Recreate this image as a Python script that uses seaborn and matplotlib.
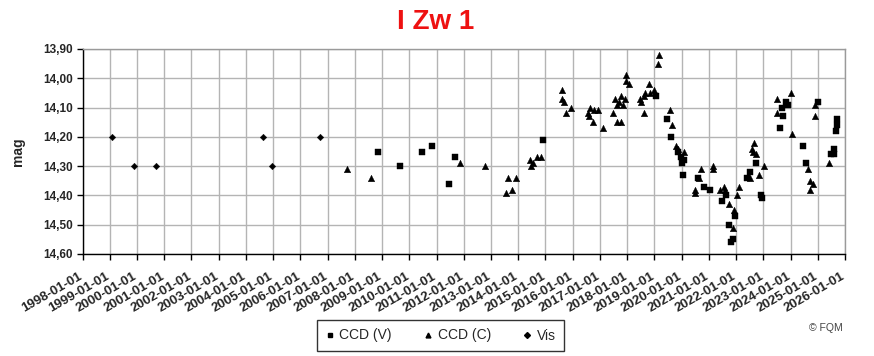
import matplotlib
matplotlib.use("Agg")
import matplotlib.pyplot as plt
import matplotlib.transforms as mtransforms
import seaborn as sns
import pandas as pd
from matplotlib.lines import Line2D

# ---------------- data (decimal year, magnitude) ----------------
vis_year = [1999.08, 1999.89, 2000.69, 2004.62, 2004.95, 2006.72]
vis_mag = [14.20, 14.30, 14.30, 14.20, 14.30, 14.20]

ccdv_year = [2008.84, 2009.65, 2010.46, 2010.83, 2011.45, 2011.67, 2014.90,
             2019.05, 2019.48, 2019.60, 2019.88, 2019.96, 2020.00, 2020.07, 2020.04,
             2020.61, 2020.83, 2021.06, 2021.49, 2021.63, 2021.73, 2021.87, 2021.80,
             2021.97, 2022.40, 2022.50, 2022.75, 2022.90, 2022.97, 2023.60, 2023.67,
             2023.73, 2023.84, 2023.91, 2024.46, 2024.57, 2025.01, 2025.49, 2025.61,
             2025.61, 2025.67, 2025.71, 2025.71]
ccdv_mag = [14.25, 14.30, 14.25, 14.23, 14.36, 14.27, 14.21,
            14.06, 14.14, 14.20, 14.25, 14.27, 14.29, 14.28, 14.33,
            14.34, 14.37, 14.38, 14.42, 14.40, 14.50, 14.55, 14.56,
            14.47, 14.34, 14.32, 14.29, 14.40, 14.41, 14.17, 14.10,
            14.13, 14.08, 14.09, 14.23, 14.29, 14.08, 14.26, 14.26,
            14.24, 14.18, 14.16, 14.14]

ccdc_year = [2007.72, 2008.59, 2011.85, 2012.77, 2013.54, 2013.61, 2013.76, 2013.91,
             2014.45, 2014.46, 2014.54, 2014.70, 2014.84, 2015.60, 2015.62, 2015.68,
             2015.74, 2015.93, 2016.55, 2016.59, 2016.62, 2016.73, 2016.80, 2016.92,
             2017.10, 2017.49, 2017.54, 2017.63, 2017.63, 2017.70, 2017.77, 2017.79,
             2017.85, 2017.92, 2017.97, 2017.97, 2018.06, 2018.48, 2018.52, 2018.61,
             2018.61, 2018.67, 2018.80, 2018.83, 2018.97, 2019.14, 2019.16, 2019.56,
             2019.64, 2019.81, 2019.88, 2020.07, 2020.51, 2020.51, 2020.63, 2020.70,
             2021.14, 2021.14, 2021.41, 2021.55, 2021.60, 2021.73, 2021.87, 2021.94,
             2022.04, 2022.10, 2022.50, 2022.58, 2022.65, 2022.62, 2022.75, 2022.86,
             2023.04, 2023.49, 2023.49, 2024.01, 2024.04, 2024.64, 2024.70, 2024.72,
             2024.82, 2024.89, 2024.91, 2025.42]
ccdc_mag = [14.31, 14.34, 14.29, 14.30, 14.39, 14.34, 14.38, 14.34,
            14.28, 14.30, 14.29, 14.27, 14.27, 14.04, 14.07, 14.08,
            14.12, 14.10, 14.12, 14.13, 14.10, 14.15, 14.11, 14.11,
            14.17, 14.12, 14.07, 14.09, 14.15, 14.08, 14.15, 14.06,
            14.09, 14.07, 13.99, 14.01, 14.02, 14.07, 14.08, 14.06,
            14.12, 14.05, 14.02, 14.05, 14.04, 13.95, 13.92, 14.11,
            14.16, 14.23, 14.24, 14.25, 14.38, 14.39, 14.34, 14.31,
            14.30, 14.31, 14.38, 14.37, 14.38, 14.43, 14.51, 14.45,
            14.40, 14.37, 14.34, 14.24, 14.22, 14.25, 14.26, 14.33,
            14.30, 14.07, 14.12, 14.05, 14.19, 14.31, 14.38, 14.35,
            14.36, 14.09, 14.13, 14.29]

series_names = ["CCD (V)", "CCD (C)", "Vis"]
x_tick_years = list(range(1998, 2027))
x_tick_labels = [f"{y}-01-01" for y in x_tick_years]
y_ticks = [13.9, 14.0, 14.1, 14.2, 14.3, 14.4, 14.5, 14.6]
y_tick_labels = ["13,90", "14,00", "14,10", "14,20", "14,30", "14,40", "14,50", "14,60"]

df = pd.concat([
    pd.DataFrame({"year": ccdv_year, "mag": ccdv_mag, "series": series_names[0]}),
    pd.DataFrame({"year": ccdc_year, "mag": ccdc_mag, "series": series_names[1]}),
    pd.DataFrame({"year": vis_year, "mag": vis_mag, "series": series_names[2]}),
], ignore_index=True)

# ---------------- style ----------------
sns.set_style("white")
plt.rcParams['font.family'] = ['Liberation Sans', 'DejaVu Sans']

fig = plt.figure(figsize=(8.74, 3.56), dpi=100)
W, H = 874, 356
ax = fig.add_axes([82.5 / W, 1 - 254 / H, (845 - 82.5) / W, (254 - 49) / H])

markers = {"CCD (V)": "s", "CCD (C)": "^", "Vis": "D"}
sizes = {"CCD (V)": 20, "CCD (C)": 22, "Vis": 11}
for name in series_names:
    sub = df[df["series"] == name]
    sns.scatterplot(data=sub, x="year", y="mag", ax=ax, marker=markers[name],
                    s=sizes[name], color="black", edgecolor="black",
                    linewidth=0.3, legend=False, zorder=3)

ax.set_xlim(1998, 2026)
ax.set_ylim(14.6, 13.9)
ax.set_xticks(x_tick_years)
ax.set_xticklabels(x_tick_labels, rotation=30, ha="right", va="top",
                   rotation_mode="anchor", fontsize=9.5, fontweight="bold")
ax.set_yticks(y_ticks)
ax.set_yticklabels(y_tick_labels, fontsize=8.5, fontweight="bold")
ax.tick_params(axis="both", direction="out", length=4, width=1, color="black",
               left=True, bottom=True, pad=3)
ax.tick_params(axis="x", pad=8)
offset = mtransforms.ScaledTranslation(-4 / 100, 0, fig.dpi_scale_trans)
for lab in ax.get_xticklabels():
    lab.set_transform(lab.get_transform() + offset)
ax.set_xlabel("")
ax.set_ylabel("")
ax.grid(True, color="#b4b4b4", linewidth=1)
ax.set_axisbelow(True)
for side in ["top", "right"]:
    ax.spines[side].set_color("#9a9a9a")
    ax.spines[side].set_linewidth(1)
for side in ["left", "bottom"]:
    ax.spines[side].set_color("black")
    ax.spines[side].set_linewidth(1)

fig.text(436 / W, 1 - 22 / H, "I Zw 1", ha="center", va="center",
         fontsize=20, fontweight="bold", color="#ee1111")
fig.text(18 / W, 1 - 152 / H, "mag", ha="center", va="center", rotation=90,
         fontsize=10, fontweight="bold")
fig.text(826 / W, 1 - 328 / H, "© FQM", ha="center", va="center",
         fontsize=7.5, color="#444444")

handles = [Line2D([], [], linestyle="none", marker=markers[n], color="black",
                  markersize=3.5 if n != "Vis" else 3) for n in series_names]
leg = fig.legend(handles, series_names, loc="center",
                 bbox_to_anchor=(440.5 / W, 1 - 335.5 / H), ncol=3,
                 frameon=True, fancybox=False, edgecolor="black", fontsize=10,
                 handlelength=0.6, handletextpad=0.4, columnspacing=2.3,
                 borderpad=0.6)
leg.get_frame().set_linewidth(1)

fig.savefig("out.png", dpi=100)
